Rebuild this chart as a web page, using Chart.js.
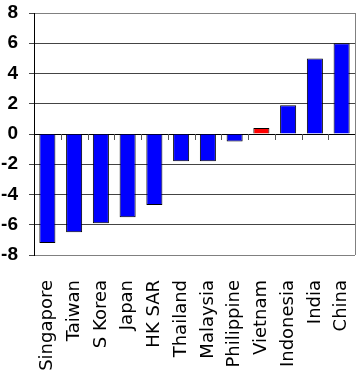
<!DOCTYPE html>
<html lang="en">
<head>
<meta charset="UTF-8">
<title>Asia bars</title>
<script src="https://cdn.jsdelivr.net/npm/chart.js"></script>
<style>
    body { margin: 0; background: #fff; }
    .chart-box { width: 360px; height: 377px; }
</style>
</head>
<body>
<div class="chart-box"><canvas id="chart"></canvas></div>
<script>
const countries = ['Singapore', 'Taiwan', 'S Korea', 'Japan', 'HK SAR', 'Thailand', 'Malaysia', 'Philippine', 'Vietnam', 'Indonesia', 'India', 'China'];
const values = [-7.2, -6.5, -5.9, -5.5, -4.7, -1.8, -1.8, -0.5, 0.4, 1.9, 5.0, 6.0];
const highlighted = 'Vietnam';
const yMin = -8, yMax = 8, yStep = 2;

// right border of plot + small category ticks on the zero line
const frameLines = {
    id: 'frameLines',
    afterDraw(chart) {
        const ctx = chart.ctx;
        const area = chart.chartArea;
        const x = chart.scales.x;
        const y0 = chart.scales.y.getPixelForValue(0);
        ctx.save();
        ctx.lineWidth = 1;
        ctx.strokeStyle = '#808080';
        ctx.beginPath();
        ctx.moveTo(area.right + 0.5, area.top);
        ctx.lineTo(area.right + 0.5, area.bottom);
        ctx.stroke();
        ctx.strokeStyle = '#555';
        ctx.beginPath();
        for (let i = 1; i < countries.length; i++) {
            const px = Math.round((x.getPixelForTick(i - 1) + x.getPixelForTick(i)) / 2) + 0.5;
            ctx.moveTo(px, y0);
            ctx.lineTo(px, y0 + 6);
        }
        ctx.stroke();
        ctx.restore();
    }
};

new Chart(document.getElementById('chart'), {
    type: 'bar',
    data: {
        labels: countries,
        datasets: [{
            data: values,
            backgroundColor: countries.map(c => c === highlighted ? '#ff0000' : '#0000ff'),
            borderColor: '#000',
            borderWidth: 1,
            barPercentage: 0.6,
            categoryPercentage: 1
        }]
    },
    options: {
        responsive: true,
        maintainAspectRatio: false,
        animation: false,
        layout: { padding: { left: 0, right: 5, top: 13, bottom: 0 } },
        plugins: { legend: { display: false }, tooltip: { enabled: false } },
        scales: {
            x: {
                grid: { display: false },
                border: { display: false },
                afterFit: s => { s.height = 122; s.paddingLeft = 0; s.paddingRight = 0; },
                ticks: {
                    autoSkip: false,
                    maxRotation: 90,
                    minRotation: 90,
                    padding: 17,
                    color: '#000',
                    font: { family: 'DejaVu Sans', size: 18 }
                }
            },
            y: {
                min: yMin,
                max: yMax,
                afterFit: s => { s.width = 34; s.paddingTop = 0; s.paddingBottom = 0; },
                ticks: {
                    stepSize: yStep,
                    padding: 11,
                    color: '#000',
                    font: { family: 'Liberation Sans', size: 19, weight: 'bold' }
                },
                grid: {
                    color: c => c.tick.value === 0 ? '#000' : (c.tick.value === yMax || c.tick.value === yMin ? '#808080' : '#444'),
                    tickColor: '#444',
                    tickLength: 5
                },
                border: { color: '#000' }
            }
        }
    },
    plugins: [frameLines]
});
</script>
</body>
</html>
